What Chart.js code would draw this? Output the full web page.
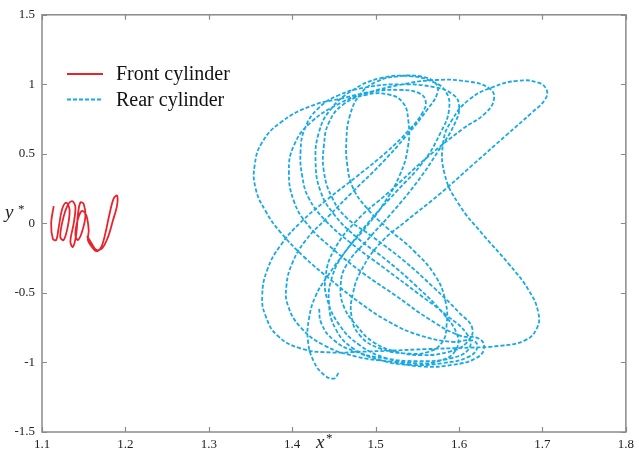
<!DOCTYPE html>
<html>
<head>
<meta charset="utf-8">
<script src="https://cdn.jsdelivr.net/npm/chart.js@4.4.0/dist/chart.umd.min.js"></script>
<style>
  html, body { margin: 0; padding: 0; background: #fff; }
  #wrap { width: 639px; height: 456px; }
</style>
</head>
<body>
<div id="wrap"><canvas id="c" width="639" height="456"></canvas></div>
<script>
// Axis ticks
const xTickValues = [1.1, 1.2, 1.3, 1.4, 1.5, 1.6, 1.7, 1.8];
const xTickLabels = ['1.1', '1.2', '1.3', '1.4', '1.5', '1.6', '1.7', '1.8'];
const yTickValues = [-1.5, -1, -0.5, 0, 0.5, 1, 1.5];
const yTickLabels = ['-1.5', '-1', '-0.5', '0', '0.5', '1', '1.5'];

// Series names
const seriesNames = ['Front cylinder', 'Rear cylinder'];

// Front cylinder trajectory (x*, y*)
const frontX = [1.114, 1.111, 1.113, 1.117, 1.120, 1.124, 1.129, 1.133, 1.131, 1.126,
  1.122, 1.124, 1.130, 1.136, 1.140, 1.138, 1.134, 1.137, 1.141, 1.143,
  1.146, 1.150, 1.152, 1.148, 1.143, 1.140, 1.143, 1.148, 1.153, 1.156,
  1.155, 1.160, 1.165, 1.171, 1.176, 1.181, 1.186, 1.190, 1.190, 1.185,
  1.179, 1.172, 1.165, 1.159, 1.154];
const frontY = [0.125, 0.00, -0.11, -0.12, -0.03, 0.10, 0.15, 0.10, -0.02, -0.12,
  -0.10, 0.00, 0.12, 0.16, 0.12, 0.00, -0.13, -0.17, -0.08, 0.06,
  0.15, 0.14, 0.05, -0.06, -0.12, -0.08, 0.03, 0.09, 0.06, -0.05,
  -0.12, -0.17, -0.20, -0.17, -0.07, 0.07, 0.18, 0.20, 0.13, 0.02,
  -0.10, -0.18, -0.19, -0.14, -0.09];

// Rear cylinder trajectory (x*, y*)
const rearX = [
  1.4555, 1.450, 1.438, 1.426, 1.419, 1.420, 1.428, 1.442, 1.465, 1.493,
  1.525, 1.557, 1.578, 1.588, 1.584, 1.568, 1.541, 1.505, 1.473, 1.446,
  1.432, 1.428, 1.434, 1.450, 1.477, 1.513, 1.549, 1.580, 1.598, 1.596,
  1.580, 1.549, 1.513, 1.481, 1.457, 1.442,
  1.440, 1.450, 1.477, 1.517, 1.560, 1.604, 1.632, 1.642, 1.636, 1.612,
  1.572, 1.529, 1.489, 1.458, 1.422, 1.402, 1.396, 1.402, 1.418, 1.446,
  1.485, 1.525, 1.564, 1.600, 1.624, 1.630, 1.620, 1.592, 1.556, 1.517,
  1.477, 1.438, 1.410, 1.395, 1.393, 1.400,
  1.416, 1.442, 1.473, 1.505, 1.537, 1.562, 1.574, 1.572, 1.556, 1.529,
  1.501, 1.481, 1.469, 1.465, 1.466, 1.473, 1.489, 1.513, 1.545, 1.572,
  1.584, 1.585, 1.580, 1.564, 1.537, 1.505, 1.481, 1.471, 1.473, 1.483,
  1.505, 1.537, 1.576, 1.616, 1.656, 1.687, 1.703, 1.705, 1.695, 1.671,
  1.640, 1.612, 1.592, 1.581, 1.583, 1.600, 1.628, 1.659, 1.683, 1.695,
  1.693, 1.679, 1.648, 1.604, 1.560, 1.521, 1.481, 1.446, 1.410, 1.382,
  1.368, 1.364, 1.370, 1.386,
  1.410, 1.442, 1.477, 1.513, 1.541, 1.556, 1.560, 1.552, 1.529, 1.497,
  1.461, 1.422, 1.386, 1.364, 1.355, 1.356, 1.368, 1.386, 1.414, 1.446,
  1.481, 1.517, 1.553, 1.592, 1.616, 1.622, 1.612, 1.580, 1.541, 1.505,
  1.473, 1.452, 1.444, 1.448,
  1.462, 1.485, 1.509, 1.529, 1.539, 1.539, 1.533, 1.517, 1.489, 1.461,
  1.444, 1.438, 1.438, 1.448, 1.465, 1.497, 1.533, 1.568, 1.600, 1.616,
  1.608, 1.588, 1.556, 1.525, 1.497, 1.477,
  1.462, 1.458, 1.465, 1.490, 1.520, 1.550, 1.575, 1.595, 1.600, 1.592,
  1.570, 1.530, 1.490, 1.455, 1.430, 1.415, 1.410, 1.412, 1.420, 1.440,
  1.470, 1.510, 1.550, 1.585, 1.610, 1.612, 1.590, 1.550, 1.510, 1.475,
  1.450, 1.435, 1.432];
const rearY = [
  -1.076, -1.116, -1.088, -0.994, -0.852, -0.688, -0.523, -0.382, -0.193, 0.019,
  0.230, 0.442, 0.654, 0.819, 0.948, 1.019, 1.059, 1.043, 0.960, 0.819,
  0.654, 0.442, 0.230, 0.066, -0.099, -0.264, -0.452, -0.641, -0.805, -0.911,
  -0.982, -1.005, -0.970, -0.876, -0.734, -0.546,
  -0.382, -0.193, 0.019, 0.230, 0.466, 0.678, 0.795, 0.901, 0.972, 1.019,
  1.031, 0.996, 0.937, 0.866, 0.725, 0.560, 0.372, 0.160, -0.005, -0.170,
  -0.358, -0.523, -0.688, -0.805, -0.829, -0.899, -0.970, -1.017, -1.029, -0.994,
  -0.958, -0.876, -0.746, -0.593, -0.452, -0.287,
  -0.123, 0.042, 0.230, 0.419, 0.631, 0.819, 0.937, 1.007, 1.054, 1.059,
  1.019, 0.925, 0.772, 0.607, 0.419, 0.254, 0.113, -0.028, -0.193, -0.382,
  -0.570, -0.735, -0.852, -0.923, -0.935, -0.899, -0.805, -0.664, -0.499, -0.335,
  -0.146, 0.019, 0.207, 0.419, 0.631, 0.795, 0.890, 0.960, 1.012, 1.026,
  0.979, 0.890, 0.748, 0.584, 0.348, 0.136, -0.076, -0.287, -0.476, -0.641,
  -0.758, -0.841, -0.881, -0.895, -0.904, -0.914, -0.923, -0.928, -0.899, -0.805,
  -0.664, -0.523, -0.335, -0.158,
  0.007, 0.172, 0.336, 0.513, 0.678, 0.795, 0.878, 0.937, 0.960, 0.948,
  0.901, 0.843, 0.725, 0.584, 0.419, 0.254, 0.089, -0.064, -0.240, -0.405,
  -0.570, -0.711, -0.805, -0.852, -0.841, -0.888, -0.958, -1.005, -1.017, -0.982,
  -0.899, -0.758, -0.570, -0.382,
  -0.217, -0.052, 0.136, 0.348, 0.560, 0.748, 0.866, 0.925, 0.925, 0.854,
  0.725, 0.560, 0.372, 0.183, 0.042, -0.099, -0.264, -0.452, -0.641, -0.758,
  -0.864, -0.923, -0.947, -0.923, -0.852, -0.734,
  -0.600, -0.450, -0.300, -0.120, 0.080, 0.300, 0.520, 0.720, 0.850, 0.930,
  0.980, 1.000, 0.980, 0.920, 0.820, 0.680, 0.520, 0.340, 0.180, 0.020,
  -0.140, -0.320, -0.500, -0.660, -0.800, -0.900, -0.970, -0.990, -0.970, -0.920,
  -0.840, -0.720, -0.600];

const RED = '#e8232b';
const BLUE = '#18a9e4';
const FRAME = '#8a8a8a';
const SERIF = '"Liberation Serif", "Times New Roman", serif';

function pts(xs, ys) { return xs.map((x, i) => ({ x: x, y: ys[i] })); }

// Frame, inward ticks, axis titles and legend
const decor = {
  id: 'decor',
  afterDatasetsDraw(chart) {
    const { ctx, chartArea: a, scales: { x, y } } = chart;
    ctx.save();
    ctx.strokeStyle = FRAME;
    ctx.lineWidth = 1.5;
    ctx.strokeRect(a.left, a.top, a.right - a.left, a.bottom - a.top);
    ctx.lineWidth = 1.2;
    ctx.beginPath();
    const tl = 5;
    xTickValues.forEach(v => {
      const px = Math.round(x.getPixelForValue(v)) + 0.5;
      ctx.moveTo(px, a.bottom); ctx.lineTo(px, a.bottom - tl);
      ctx.moveTo(px, a.top); ctx.lineTo(px, a.top + tl);
    });
    yTickValues.forEach(v => {
      const py = Math.round(y.getPixelForValue(v)) + 0.5;
      ctx.moveTo(a.left, py); ctx.lineTo(a.left + tl, py);
      ctx.moveTo(a.right, py); ctx.lineTo(a.right - tl, py);
    });
    ctx.stroke();

    // axis titles
    ctx.fillStyle = '#222';
    ctx.textBaseline = 'alphabetic';
    ctx.textAlign = 'left';
    ctx.font = 'italic 19px ' + SERIF;
    ctx.fillText('y', 5, 218);
    ctx.fillText('x', 316, 448);
    ctx.font = '13px ' + SERIF;
    ctx.fillText('*', 18, 213);
    ctx.fillText('*', 326, 442);

    // legend
    const items = [
      { label: seriesNames[0], color: RED, dash: [], y: 74 },
      { label: seriesNames[1], color: BLUE, dash: [4, 2], y: 99.5 }
    ];
    items.forEach(it => {
      ctx.strokeStyle = it.color;
      ctx.lineWidth = 1.8;
      ctx.setLineDash(it.dash);
      ctx.beginPath();
      ctx.moveTo(67, it.y); ctx.lineTo(103, it.y);
      ctx.stroke();
      ctx.setLineDash([]);
      ctx.fillStyle = '#111';
      ctx.font = '20px ' + SERIF;
      ctx.textBaseline = 'middle';
      ctx.fillText(it.label, 116, it.y + 1);
    });
    ctx.restore();
  }
};

new Chart(document.getElementById('c'), {
  type: 'scatter',
  data: {
    datasets: [
      {
        label: seriesNames[0],
        data: pts(frontX, frontY),
        showLine: true,
        borderColor: RED,
        borderWidth: 1.8,
        pointRadius: 0,
        tension: 0.35,
        fill: false
      },
      {
        label: seriesNames[1],
        data: pts(rearX, rearY),
        showLine: true,
        borderColor: BLUE,
        borderWidth: 1.8,
        borderDash: [4, 2],
        pointRadius: 0,
        tension: 0.45,
        fill: false
      }
    ]
  },
  options: {
    responsive: false,
    animation: false,
    layout: { padding: { top: 7, right: 7, left: 0, bottom: 0 } },
    plugins: { legend: { display: false }, tooltip: { enabled: false } },
    scales: {
      x: {
        type: 'linear',
        min: 1.1, max: 1.8,
        grid: { display: false, drawTicks: false },
        border: { display: false },
        afterBuildTicks: s => { s.ticks = xTickValues.map(v => ({ value: v })); },
        afterFit: s => { s.height = 24; },
        ticks: {
          padding: 5,
          color: '#222',
          font: { family: SERIF, size: 13 },
          maxRotation: 0,
          autoSkip: false,
          callback: (v, i) => xTickLabels[i]
        }
      },
      y: {
        type: 'linear',
        min: -1.5, max: 1.5,
        grid: { display: false, drawTicks: false },
        border: { display: false },
        afterBuildTicks: s => { s.ticks = yTickValues.map(v => ({ value: v })); },
        afterFit: s => { s.width = 42; },
        ticks: {
          padding: 7,
          color: '#222',
          font: { family: SERIF, size: 13 },
          autoSkip: false,
          callback: (v, i) => yTickLabels[i]
        }
      }
    }
  },
  plugins: [decor]
});
</script>
</body>
</html>
